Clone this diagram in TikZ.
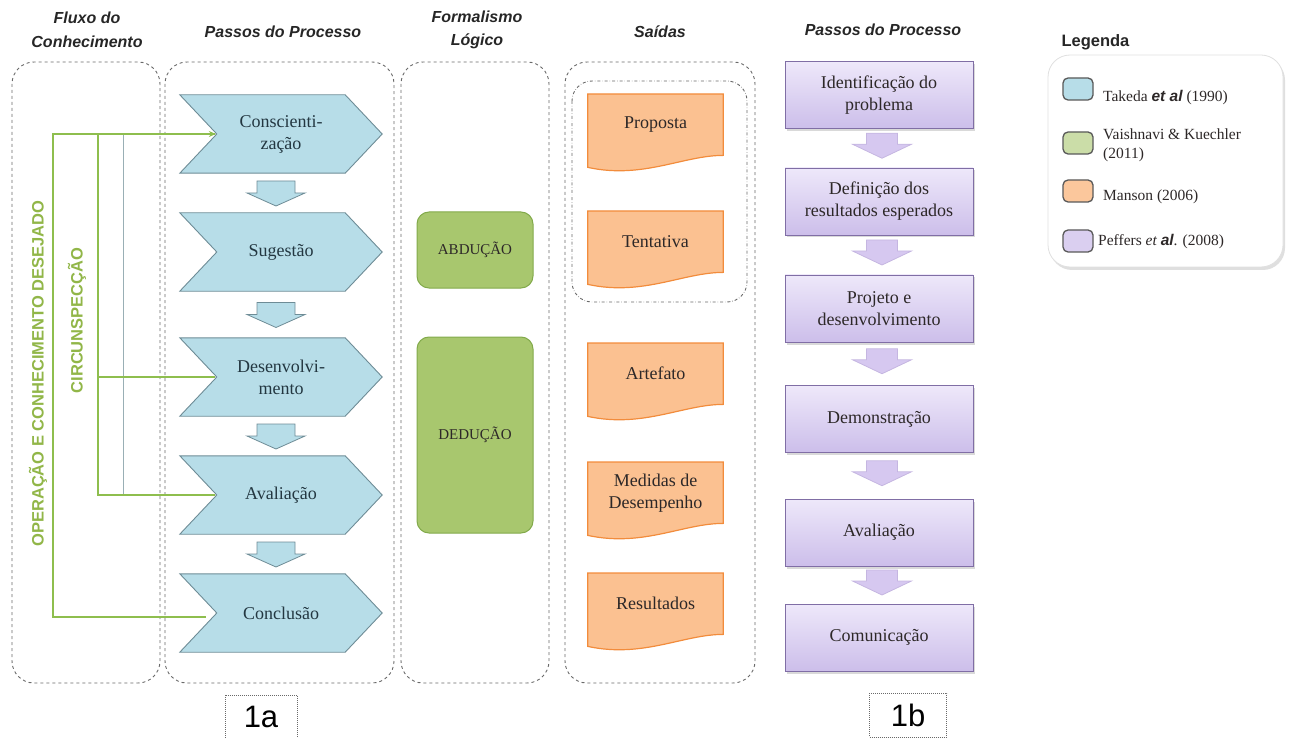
\documentclass[tikz,border=0pt]{standalone}
\usepackage{fontspec}
\setmainfont{Liberation Serif}
\setsansfont{Liberation Sans}
\usetikzlibrary{calc,shadows,arrows.meta,backgrounds}

\definecolor{chevF}{RGB}{183,221,232}
\definecolor{chevD}{RGB}{110,140,150}
\definecolor{chevT}{RGB}{35,55,65}
\definecolor{grnF}{RGB}{168,199,110}
\definecolor{grnD}{RGB}{130,170,75}
\definecolor{orgF}{RGB}{251,193,145}
\definecolor{orgD}{RGB}{242,140,60}
\definecolor{purT}{RGB}{238,232,250}
\definecolor{purB}{RGB}{204,190,234}
\definecolor{purD}{RGB}{128,110,165}
\definecolor{purA}{RGB}{214,200,240}
\definecolor{lineG}{RGB}{142,190,78}
\definecolor{textG}{RGB}{145,182,72}
\definecolor{laneC}{RGB}{105,105,105}
\definecolor{bodyT}{RGB}{45,40,40}

\newcommand\bodyfont{\fontsize{18}{22}\selectfont}

% chevron outline around a step node
\newcommand\chevfill[1]{%
  \filldraw[chevshape] (#1.north west) -- ($(#1.north east)+(-37,0)$) -- (#1.east)
    -- ($(#1.south east)+(-37,0)$) -- (#1.south west) -- ($(#1.west)+(37,0)$) -- cycle;}
% document outline with wavy bottom around an output node
\newcommand\docfill[1]{%
  \filldraw[docshape] (#1.north west) -- (#1.north east) -- (#1.south east)
    .. controls ($(#1.south east)+(-40,0)$) and ($(#1.south west)+(55,24)$) .. ($(#1.south west)+(0,12)$) -- cycle;}

\tikzset{
  bdown/.pic={\path[pic actions] (-19,-12) -- (19,-12) -- (19,0) -- (29,0) -- (0,13) -- (-29,0) -- (-19,0) -- cycle;},
  pdown/.pic={\path[pic actions] (-15.5,-12) -- (15.5,-12) -- (15.5,-1) -- (29.5,-1) -- (0,13) -- (-29.5,-1) -- (-15.5,-1) -- cycle;}
}

\begin{document}
\begin{tikzpicture}[x=1pt,y=-1pt,
  head/.style={font=\sffamily\bfseries\itshape\fontsize{16}{23.5}\selectfont, align=center, text=black!85},
  lane/.style={draw=laneC, dashed, line width=0.9pt, rounded corners=22pt},
  chev/.style={minimum width=202pt, minimum height=78pt, inner sep=0pt, align=center, font=\bodyfont, text=chevT},
  chevshape/.style={fill=chevF, draw=chevD, line width=0.9pt},
  barrow/.style={fill=chevF, draw=chevD, line width=0.8pt},
  parrow/.style={fill=purA, draw=purA!80!purD, line width=0.8pt},
  gbox/.style={minimum width=116pt, inner sep=0pt, rounded corners=12pt, fill=grnF, draw=grnD, line width=1pt, font=\fontsize{15}{18}\selectfont, text=bodyT},
  docnode/.style={minimum width=135pt, minimum height=61pt, anchor=north, inner sep=0pt, align=center, font=\bodyfont, text=bodyT},
  docshape/.style={fill=orgF, draw=orgD, line width=1.2pt},
  pbox/.style={minimum width=188pt, minimum height=67pt, inner sep=0pt, align=center, font=\bodyfont, text=bodyT,
    top color=purT, bottom color=purB, draw=purD, line width=0.9pt,
    drop shadow={opacity=0.3, shadow xshift=2pt, shadow yshift=-2.5pt}},
  gline/.style={draw=lineG, line width=2.4pt},
  bline/.style={draw=chevD!70, line width=0.9pt},
  vtext/.style={font=\sffamily\bfseries\fontsize{16.5}{18}\selectfont, text=textG, rotate=90},
  swatch/.style={minimum width=30pt, minimum height=22pt, inner sep=0pt, rounded corners=5pt, draw=black!65, line width=1.3pt},
  legtext/.style={anchor=west, inner sep=0pt, font=\fontsize{15.5}{19}\selectfont, text=bodyT, align=left},
  lbl/.style={draw=laneC, densely dotted, line width=1pt, inner sep=0pt, font=\sffamily\fontsize{31}{32}\selectfont}
]
\useasboundingbox (0,0) rectangle (1299,738);

% column headings
\node[head] (h1) at (87,30) {Fluxo do\\Conhecimento};
\node[head] (h2) at (283,32) {Passos do Processo};
\node[head] (h3) at (477,30) {Formalismo\\Lógico};
\node[head] (h4) at (660,32) {Saídas};
\node[head] (h5) at (883,30) {Passos do Processo};
\node[font=\sffamily\bfseries\fontsize{16.5}{18}\selectfont, anchor=west, text=black!85] (lg) at (1058,42) {Legenda};

% steps of process 1a
\node[chev] (c1) at (281,134) {Conscienti-\\zação};
\node[chev] (c2) at (281,252) {Sugestão};
\node[chev] (c3) at (281,377) {Desenvolvi-\\mento};
\node[chev] (c4) at (281,495) {Avaliação};
\node[chev] (c5) at (281,613) {Conclusão};

% logical formalism
\node[gbox, minimum height=76pt] (ab) at (475,250) {ABDUÇÃO};
\node[gbox, minimum height=196pt] (de) at (475,435) {DEDUÇÃO};

% outputs
\node[docnode] (o1) at (655.5,94) {Proposta};
\node[docnode] (o2) at (655.5,211) {Tentativa};
\node[docnode] (o3) at (655.5,343) {Artefato};
\node[docnode] (o4) at (655.5,462) {Medidas de\\Desempenho};
\node[docnode] (o5) at (655.5,573) {Resultados};

\begin{scope}[on background layer]
  \draw[lane] (12,62) rectangle (160,683);
  \draw[lane] (165,62) rectangle (394,683);
  \draw[lane] (401,62) rectangle (549,683);
  \draw[lane] (565,62) rectangle (755,683);
  \draw[draw=laneC, dash dot, line width=0.9pt, rounded corners=20pt] (572,81) rectangle (747,302);
  \chevfill{c1}\chevfill{c2}\chevfill{c3}\chevfill{c4}\chevfill{c5}
  \docfill{o1}\docfill{o2}\docfill{o3}\docfill{o4}\docfill{o5}
\end{scope}

% block arrows between steps
\pic[barrow] at ($($(c1.south)!0.5!(c2.north)$)+(-5,0)$) {bdown};
\pic[barrow] at ($($(c2.south)!0.5!(c3.north)$)+(-5,0)$) {bdown};
\pic[barrow] at ($($(c3.south)!0.5!(c4.north)$)+(-5,0)$) {bdown};
\pic[barrow] at ($($(c4.south)!0.5!(c5.north)$)+(-5,0)$) {bdown};

% knowledge flow lines
\coordinate (xo) at (53,0);
\coordinate (xi) at (98,0);
\coordinate (xb) at (123,0);
\coordinate (n1) at ($(c1.west)+(35,0)$);
\coordinate (n3) at ($(c3.west)+(35,0)$);
\coordinate (n4) at ($(c4.west)+(35,0)$);
\coordinate (n5) at ($(c5.west)+(26,4)$);
\draw[bline] (n1 -| xb) -- (n4 -| xb);
\draw[gline] (n5) -- (n5 -| xo) -- (n1 -| xo) -- (n1);
\draw[gline] (n4) -- (n4 -| xi) -- (n1 -| xi);
\draw[gline] (n3 -| xi) -- (n3);
\draw[lineG, line width=1pt, -{Stealth[length=7pt,width=6pt]}] ($(n1)+(-4,0)$) -- ($(n1)+(1,0)$);

\node[vtext] (op) at (38,373.5) {OPERAÇÃO E CONHECIMENTO DESEJADO};
\node[vtext] (ci) at (77,320.5) {CIRCUNSPECÇÃO};

% steps of process 1b
\node[pbox] (b1) at (879,95) {Identificação do\\problema};
\node[pbox] (b2) at (879,201.5) {Definição dos\\resultados esperados};
\node[pbox] (b3) at (879,308.5) {Projeto e\\desenvolvimento};
\node[pbox] (b4) at (879,419) {Demonstração};
\node[pbox] (b5) at (879,532.5) {Avaliação};
\node[pbox] (b6) at (879,637.5) {Comunicação};

\pic[parrow] at ($($(b1.south)!0.5!(b2.north)$)+(3,-3)$) {pdown};
\pic[parrow] at ($($(b2.south)!0.5!(b3.north)$)+(3,-3)$) {pdown};
\pic[parrow] at ($($(b3.south)!0.5!(b4.north)$)+(3,-3)$) {pdown};
\pic[parrow] at ($($(b4.south)!0.5!(b5.north)$)+(3,-3)$) {pdown};
\pic[parrow] at ($($(b5.south)!0.5!(b6.north)$)+(3,-3)$) {pdown};

% legend
\draw[fill=white, draw=black!12, line width=0.8pt, rounded corners=22pt,
  drop shadow={opacity=0.25, shadow xshift=2pt, shadow yshift=-3pt}] (1048,55) rectangle (1283,267);
\node[swatch, fill=chevF] (s1) at (1078,89) {};
\node[swatch, fill=grnF!60!white] (s2) at (1078,143) {};
\node[swatch, fill=orgF!90!white] (s3) at (1078,191) {};
\node[swatch, fill=purT!40!purB] (s4) at (1078,241) {};
\node[legtext] (t1) at (1103,98) {Takeda {\sffamily\bfseries\itshape et al} (1990)};
\node[legtext] (t2) at (1103,145) {Vaishnavi \& Kuechler\\(2011)};
\node[legtext] (t3) at (1103,197) {Manson (2006)};
\node[legtext] (t4) at (1098,242) {Peffers {\itshape et} {\sffamily\bfseries\itshape al}. (2008)};

% figure part labels
\node[lbl, minimum width=72pt, minimum height=44pt] (la) at (261,717) {1a};
\node[lbl, minimum width=77pt, minimum height=44pt] (lb) at (908,715) {1b};
\end{tikzpicture}
\end{document}
